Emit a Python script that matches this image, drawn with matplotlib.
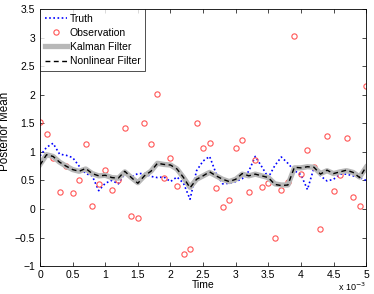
import matplotlib
matplotlib.use("Agg")
import matplotlib.pyplot as plt
import numpy as np

plt.rcParams["font.family"] = ["Liberation Sans", "DejaVu Sans"]
plt.rcParams["font.size"] = 7.5

# time axis in units of 1e-3
time = np.round(np.arange(0, 5.01, 0.1), 1)

truth = [0.93, 1.08, 1.15, 0.96, 0.94, 0.90, 0.75, 0.62, 0.58, 0.32,
         0.45, 0.50, 0.44, 0.62, 0.56, 0.62, 0.62, 0.57, 0.55, 0.56,
         0.48, 0.56, 0.45, 0.17, 0.67, 0.84, 0.92, 0.62, 0.44, 0.45,
         0.48, 0.53, 0.66, 0.92, 0.74, 0.55, 0.76, 0.91, 0.80, 0.67,
         0.60, 0.34, 0.72, 0.58, 0.49, 0.52, 0.61, 0.61, 0.58, 0.55,
         0.50]

observation = [1.52, 1.32, 0.89, 0.30, 0.75, 0.28, 0.50, 1.13, 0.05, 0.44,
               0.68, 0.34, 0.50, 1.41, -0.13, -0.16, 1.50, 1.13, 2.01, 0.55,
               0.89, 0.40, -0.78, -0.70, 1.50, 1.06, 1.15, 0.36, 0.03, 0.16,
               1.06, 1.20, 0.30, 0.85, 0.38, 0.45, -0.51, 0.34, 0.47, 3.03,
               0.61, 1.03, 0.74, -0.35, 1.27, 0.31, 0.60, 1.25, 0.21, 0.05,
               2.15]

kalman = [0.78, 0.95, 0.92, 0.82, 0.75, 0.69, 0.66, 0.70, 0.62, 0.58,
          0.59, 0.55, 0.54, 0.65, 0.55, 0.46, 0.58, 0.66, 0.80, 0.78,
          0.77, 0.70, 0.55, 0.38, 0.52, 0.58, 0.64, 0.58, 0.52, 0.48,
          0.52, 0.61, 0.58, 0.61, 0.58, 0.55, 0.44, 0.42, 0.42, 0.72,
          0.72, 0.74, 0.73, 0.62, 0.67, 0.62, 0.65, 0.67, 0.64, 0.56,
          0.73]

nonlinear = [0.77, 0.95, 0.92, 0.82, 0.75, 0.69, 0.66, 0.71, 0.62, 0.58,
             0.59, 0.55, 0.54, 0.66, 0.55, 0.45, 0.58, 0.66, 0.80, 0.78,
             0.77, 0.70, 0.55, 0.37, 0.52, 0.58, 0.65, 0.58, 0.52, 0.48,
             0.52, 0.62, 0.58, 0.61, 0.58, 0.55, 0.43, 0.41, 0.42, 0.73,
             0.72, 0.74, 0.73, 0.61, 0.68, 0.62, 0.65, 0.68, 0.64, 0.55,
             0.74]

fig = plt.figure(figsize=(3.74, 2.94), dpi=100)
ax = fig.add_axes([0.107, 0.095, 0.872, 0.874])

ax.plot(time, truth, color="#0000ff", linestyle=(0, (1, 1.5)), lw=1.2, label="Truth")
ax.plot(time, observation, "o", mfc="none", mec="#ff5555", ms=3.8, mew=0.8,
        label="Observation")
ax.plot(time, kalman, color="#b8b8b8", lw=3.8, label="Kalman Filter")
ax.plot(time, nonlinear, color="black", linestyle=(0, (3.5, 2.5)), lw=1.0,
        label="Nonlinear Filter")

ax.set_xlim(0, 5)
ax.set_ylim(-1, 3.5)
ax.set_xticks(np.arange(0, 5.01, 0.5))
ax.set_xticklabels(["0", "0.5", "1", "1.5", "2", "2.5", "3", "3.5", "4", "4.5", "5"])
ax.set_yticks(np.arange(-1, 3.51, 0.5))
ax.set_yticklabels(["\u22121", "\u22120.5", "0", "0.5", "1", "1.5", "2", "2.5", "3", "3.5"])
ax.tick_params(direction="in", top=True, right=True, length=3, width=0.5)
ax.tick_params(axis="y", pad=3.5)
ax.tick_params(axis="x", pad=3)
for s in ax.spines.values():
    s.set_linewidth(0.6)

ax.set_xlabel("Time", labelpad=0)
ax.set_ylabel("Posterior Mean", fontsize=8.4)
ax.yaxis.set_label_coords(-0.088, 0.525)
fig.text(0.979, 0.002, "x 10$^{-3}$", ha="right", va="bottom", fontsize=6.5)

leg = ax.legend(loc="upper left", frameon=True, fancybox=False, borderaxespad=0,
                handlelength=2.1, handletextpad=0.3, labelspacing=0.4,
                borderpad=0.45, fontsize=7.5)
leg.get_frame().set_edgecolor("black")
leg.get_frame().set_linewidth(0.6)

fig.savefig("out.png", dpi=100)
